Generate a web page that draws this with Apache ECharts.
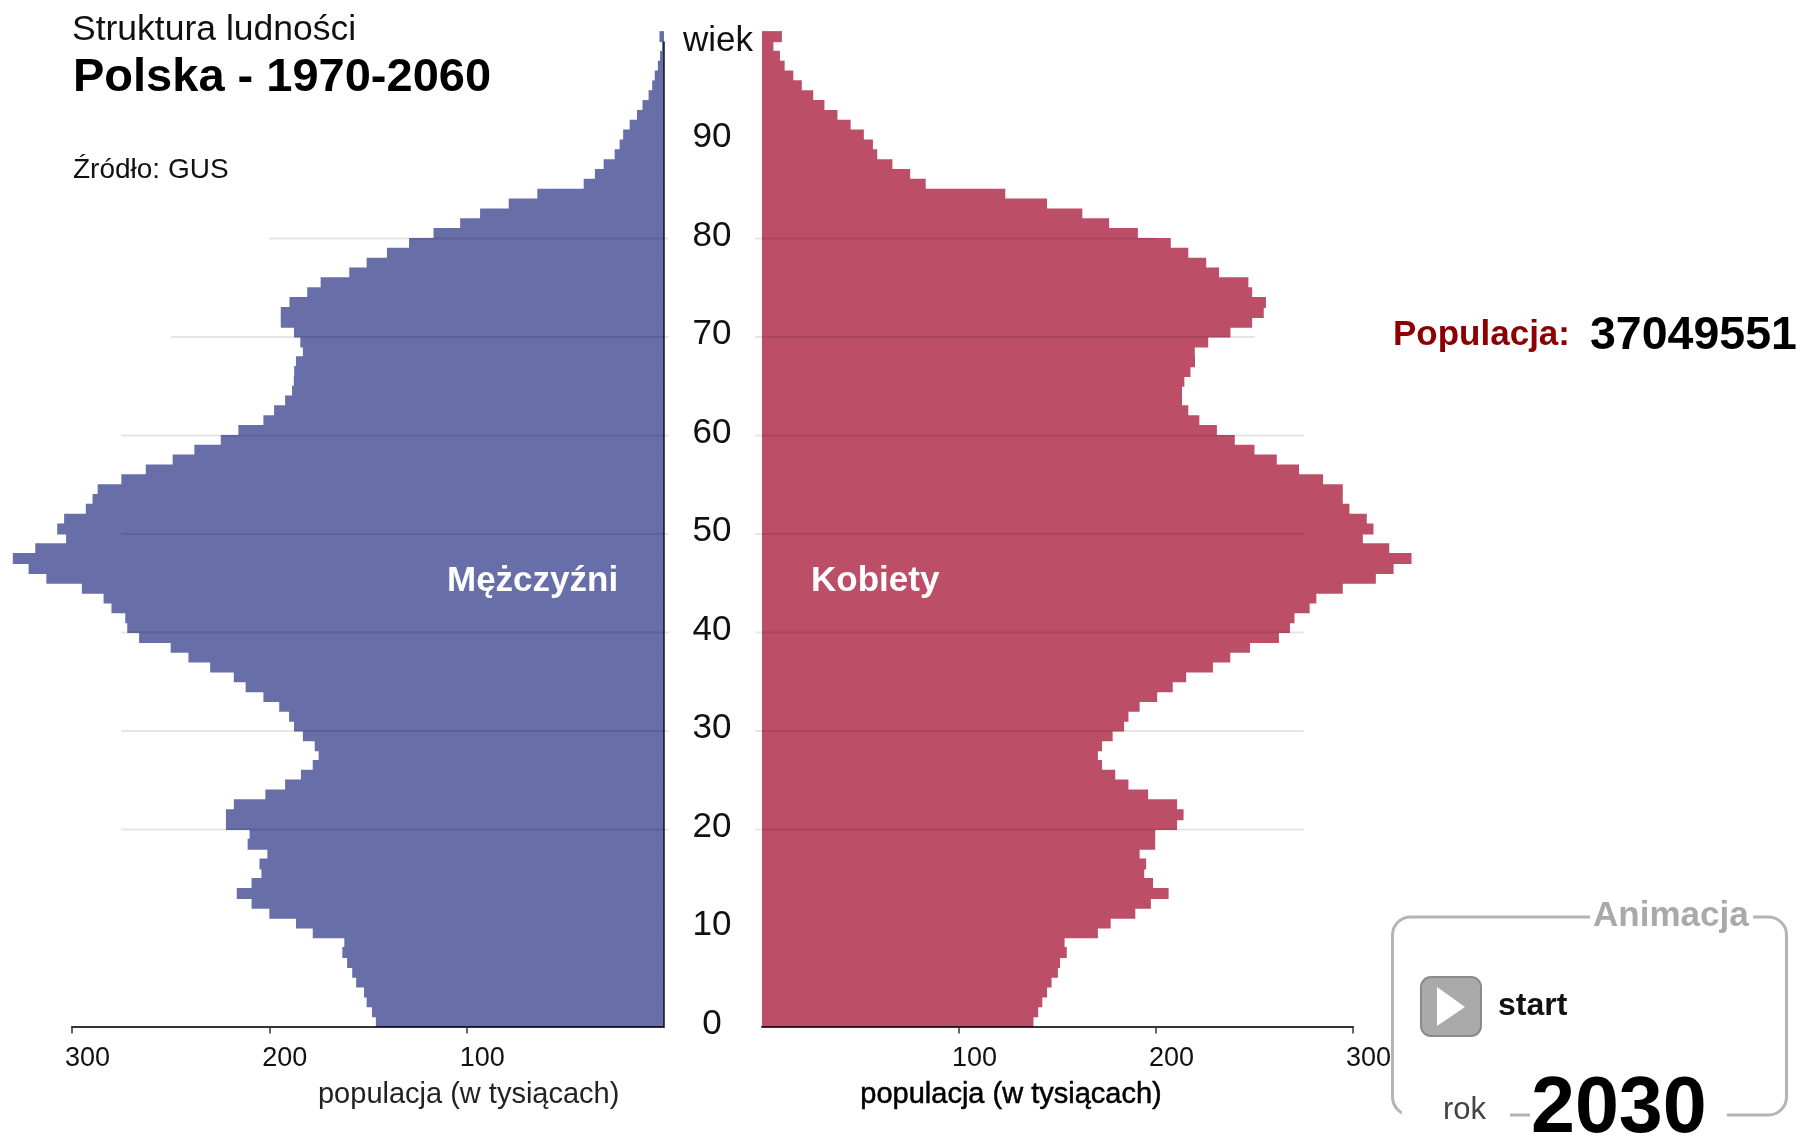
<!DOCTYPE html>
<html lang="pl">
<head>
<meta charset="utf-8">
<title>Struktura ludności</title>
<script src="https://cdn.jsdelivr.net/npm/echarts@6/dist/echarts.min.js"></script>
<style>html,body{margin:0;padding:0;background:#fff}#chart{width:1800px;height:1137px}</style>
</head>
<body>
<div id="chart"></div>
<script>
// Wartości w tysiącach, wiek 0 .. 100
const male = [146,148,150.7,152,156,158,160.6,163,162,178,186.5,200,209,216.5,209,204,205,201,211,210,
  222,222,218,202,192,184,178,175,177,183,187.5,190,195,203,212,218,230,241,250,266,
  272,273,280,284,295,313,322,330,318.6,303,307.5,304,293,289.6,287,275,262.6,249,238,224.6,
  215.7,203,197.6,192,188.5,187.6,187.4,186.5,183,184.3,187.5,194.2,194.2,189.8,180.8,174,159.5,150.7,140.4,129.2,
  116.8,103.3,93.2,78.7,64.2,40.7,35,30.6,25,22.5,20.7,17.4,13.7,10.9,7.8,6,4.7,3.1,2,1,2.3];
const female = [137.8,140.2,142.3,144.7,147,150.2,151.3,154.7,153.6,170.5,177,189.5,197.4,206.4,198.5,194,195,191.7,199.6,199.6,
  210.7,214,210.7,196,186,179.3,172.6,170.5,172.6,178,183.8,186,191.7,200.6,208.5,215.3,228.9,237.7,247.7,262.4,
  268,270.3,278,281.4,294.8,311.6,320.6,329.7,318.4,305,310.4,307,298.2,294.8,294.8,284.8,272.6,261.3,250,240,
  230.9,222,216.4,213.2,213.2,214.4,217.5,219.8,219.7,226.5,237.8,248.8,254.7,255.8,248.8,246.9,232,225.5,216.4,207.5,
  190.8,176.2,162.6,144.7,123.5,83.1,75.2,66.2,58.5,56.3,51.7,45,38.3,31.7,26,20.2,15.9,11.5,9.1,5.8,10.1];
const ages = male.map((_, i) => String(i));
const ageTicks = [0,10,20,30,40,50,60,70,80,90];
const popTicks = [100,200,300];
const refAges = [20,30,40,50,60,70,80];
const refExtents = [275,275,275,275,275,250,200];
const refOvershootLeft = -2.3;
const refOvershootRight = -3.5;
const ageAxisTop = 100;
const population = '37049551';
const year = '2030';

const FONT = '"Liberation Sans", Arial, sans-serif';
const MALE_COL = '#686ea7';
const FEMALE_COL = '#bd4e68';
const chart = echarts.init(document.getElementById('chart'));

function refRender(overshoot) {
  return function (params, api) {
    const a = api.value(0), e = api.value(1);
    const p1 = api.coord([overshoot, a]), p2 = api.coord([e, a]);
    return {type:'line', shape:{x1:p1[0],y1:p1[1],x2:p2[0],y2:p2[1]}, style:{stroke:'rgba(0,0,0,0.1)',lineWidth:2}};
  };
}
function txt(text, x, y, size, opts) {
  opts = opts || {};
  return {type:'text', x:x, y:y, z:20, silent:true, style:{
    text:text, fill:opts.fill||'#111', align:opts.align||'left', verticalAlign:'middle',
    textAlign:opts.align||'left', textVerticalAlign:'middle',
    font:(opts.bold?'bold ':'')+size+'px '+FONT, stroke:opts.stroke, lineWidth:opts.lw||0}};
}
const xCommon = {type:'value',min:0,max:300,position:'bottom',z:4,splitLine:{show:false},
  axisLine:{show:true,onZero:false,lineStyle:{color:'rgba(0,0,0,0.8)',width:2}},
  axisTick:{show:true,length:7,customValues:popTicks,lineStyle:{color:'#333',width:1.5}},
  axisLabel:{customValues:popTicks,color:'#111',fontFamily:FONT,fontSize:27,margin:19,padding:[0,0,0,31],align:'center'}};
const catY = i => ({type:'category',gridIndex:i,data:ages,show:false,boundaryGap:true});
const valY = i => ({type:'value',gridIndex:i,min:0,max:101,position:'right',show:false,splitLine:{show:false}});
// Tick labels sit slightly above the reference lines, hence the shifted scale.
const labelY = {type:'value',gridIndex:0,min:-0.23,max:100.77,position:'right',show:true,splitLine:{show:false},
  axisLine:{show:false},axisTick:{show:false},
  axisLabel:{customValues:ageTicks,color:'#111',fontFamily:FONT,fontSize:35,margin:48,align:'center'}};

chart.setOption({
  animation:false,
  backgroundColor:'#fff',
  grid:[
    {left:72,width:592,top:31.7,height:994.7,containLabel:false},
    {left:762,width:591,top:31.7,height:994.7,containLabel:false}
  ],
  xAxis:[
    Object.assign({gridIndex:0,inverse:true},xCommon),
    Object.assign({gridIndex:1},xCommon)
  ],
  yAxis:[catY(0),valY(0),catY(1),valY(1),labelY],
  series:[
    {type:'bar',name:'Mężczyźni',xAxisIndex:0,yAxisIndex:0,data:male,barWidth:11,barCategoryGap:0,z:2,silent:true,clip:false,
      itemStyle:{color:MALE_COL}},
    {type:'bar',name:'Kobiety',xAxisIndex:1,yAxisIndex:2,data:female,barWidth:11,barCategoryGap:0,z:2,silent:true,clip:false,
      itemStyle:{color:FEMALE_COL}},
    {type:'custom',name:'ref-m',xAxisIndex:0,yAxisIndex:1,z:3,silent:true,renderItem:refRender(refOvershootLeft),
      encode:{x:1,y:0},data:refAges.map((a,i)=>[a,refExtents[i]])},
    {type:'custom',name:'ref-k',xAxisIndex:1,yAxisIndex:3,z:3,silent:true,renderItem:refRender(refOvershootRight),
      encode:{x:1,y:0},data:refAges.map((a,i)=>[a,refExtents[i]])},
    {type:'custom',name:'axis-v',xAxisIndex:0,yAxisIndex:1,z:5,silent:true,encode:{x:0,y:1},data:[[0,ageAxisTop]],
      renderItem:function(p,api){const a=api.coord([0,0]),b=api.coord([0,api.value(1)]);
        return {type:'line',shape:{x1:a[0],y1:a[1],x2:b[0],y2:b[1]},style:{stroke:'#111',lineWidth:1.5}};}}
  ],
  graphic:[
    txt('Struktura ludności',72,30,35.5),
    txt('Polska - 1970-2060',73,78,47,{bold:true,fill:'#000'}),
    txt('Źródło: GUS',73,170,28),
    txt('wiek',683,41,35),
    txt('Mężczyźni',447,581,35,{bold:true,fill:'#fff'}),
    txt('Kobiety',811,581,35,{bold:true,fill:'#fff'}),
    txt('populacja (w tysiącach)',468.7,1095,29,{align:'center',fill:'#222'}),
    txt('populacja (w tysiącach)',1011,1095,29,{align:'center',fill:'#000',stroke:'#000',lw:0.5}),
    txt('Populacja:',1393,335,35,{bold:true,fill:'#8b0000'}),
    txt(population,1590,336,46.5,{bold:true,fill:'#000'}),
    {type:'rect',z:10,silent:true,shape:{x:1392.5,y:917,width:394,height:198,r:18},style:{fill:'none',stroke:'#b4b4b4',lineWidth:3}},
    {type:'rect',z:11,silent:true,shape:{x:1590,y:905,width:163,height:24},style:{fill:'#fff'}},
    {type:'rect',z:11,silent:true,shape:{x:1402,y:1106,width:108,height:20},style:{fill:'#fff'}},
    {type:'rect',z:11,silent:true,shape:{x:1530,y:1106,width:197,height:20},style:{fill:'#fff'}},
    txt('Animacja',1593,916,35,{bold:true,fill:'#a9a9a9'}),
    {type:'rect',z:12,silent:true,shape:{x:1421,y:977,width:60,height:59,r:10},style:{fill:'#aaaaaa',stroke:'#8a8a8a',lineWidth:2}},
    {type:'polygon',z:13,silent:true,shape:{points:[[1437,987],[1437,1026],[1465,1007]]},style:{fill:'#fff'}},
    txt('start',1498,1006,32,{bold:true,fill:'#111'}),
    txt('rok',1443,1110,31,{fill:'#444'}),
    txt(year,1531,1110,79,{bold:true,fill:'#000'})
  ]
});
</script>
</body>
</html>
